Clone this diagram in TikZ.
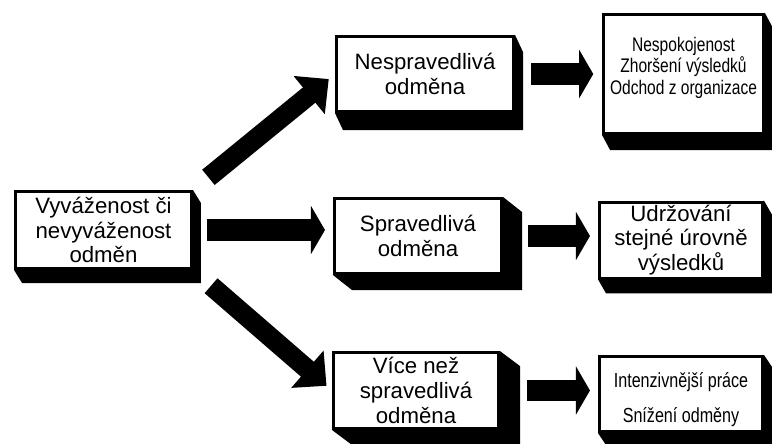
\documentclass[tikz,border=0pt]{standalone}
\usepackage{fontspec}
\setmainfont{Liberation Sans}
\newfontfamily\narrowfont[FakeStretch=0.79]{Liberation Sans}
\usetikzlibrary{arrows.meta,calc,backgrounds}

\begin{document}
\begin{tikzpicture}[
  x=0.025cm,y=-0.025cm,
  box/.style={draw=black,line width=2pt,fill=white,align=center,inner sep=2pt,
              font=\fontsize{15.8}{17.5}\selectfont},
  res/.style={box,font=\narrowfont\fontsize{14}{15.3}\selectfont},
  hbar/.style={line width=15pt,-{Triangle[length=10pt,width=34pt]}},
  dbar/.style={line width=14pt,-{Triangle[length=18pt,width=34pt]}}
]
\useasboundingbox (0,0) rectangle (772,443);

% ---- vychozi blok ----
\node[box,minimum width=4.4cm,minimum height=1.93cm] (L) at (103.5,230)
  {Vyváženost či\\nevyváženost\\odměn};

% ---- tri druhy odmeny ----
\node[box,minimum width=4.43cm,minimum height=1.88cm] (N) at (425,74)
  {Nespravedlivá\\odměna};
\node[box,minimum width=4.18cm,minimum height=1.88cm] (S) at (418,236)
  {Spravedlivá\\odměna};
\node[box,minimum width=4.13cm,minimum height=1.9cm] (V) at (416,390.5)
  {Více než\\spravedlivá\\odměna};

% ---- dusledky ----
\node[res,minimum width=4.0cm,minimum height=2.98cm] (R1) at (683.5,74)
  {Nespokojenost\\Zhoršení výsledků\\Odchod z organizace\rule[-12pt]{0pt}{1pt}};
\node[box,minimum width=4.08cm,minimum height=1.83cm] (R2) at (681,240)
  {Udržování\\stejné úrovně\\výsledků};
\node[res,minimum width=4.08cm,minimum height=1.88cm,
      font=\narrowfont\fontsize{14.5}{16}\selectfont] (R3) at (681,394)
  {\rule{0pt}{19pt}Intenzivnější práce\\[9pt]Snížení odměny};

% stiny pod bloky
\begin{scope}[on background layer]
  \foreach \n/\dx/\dy in {L/8/13,N/8/17,S/19/15,V/20/15,R1/8/15,R2/8/14,R3/8/12}
    \fill (\n.north east) -- ++(\dx,\dy) -- ($(\n.south east)+(\dx,\dy)$)
      -- ($(\n.south west)+(\dx,\dy)$) -- (\n.south west) -- cycle;
\end{scope}

% ---- sipky ----
\draw[dbar,shorten <=0.5cm,shorten >=0.2cm] (L.north east) -- (N.west);
\draw[hbar,shorten <=0.35cm,shorten >=0.2cm] (L.east) -- (L.east -| S.west);
\draw[dbar,shorten <=0.6cm,shorten >=0.18cm] (L.south east) -- (V.west);

\draw[hbar,shorten <=0.4cm,shorten >=0.22cm] (N.east) -- (N.east -| R1.west);
\draw[hbar,shorten <=0.62cm,shorten >=0.2cm] (S.east) -- (S.east -| R2.west);
\draw[hbar,shorten <=0.68cm,shorten >=0.2cm] (V.east) -- (V.east -| R3.west);

\end{tikzpicture}
\end{document}
